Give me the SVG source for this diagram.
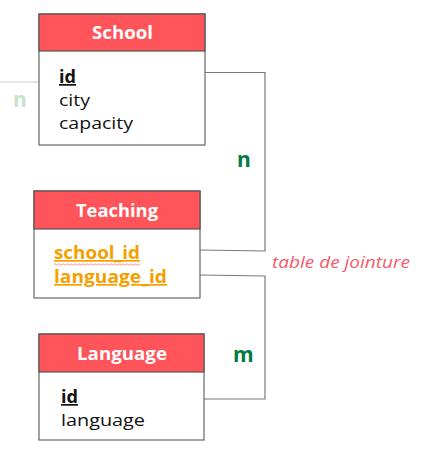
<svg xmlns="http://www.w3.org/2000/svg" width="441" height="458" viewBox="0 0 441 458">
<style>
.box{fill:#fff;stroke:#666;stroke-width:1.2}
.hdr{fill:#ff5459;stroke:#555;stroke-width:1.2}
.title{font-family:"Open Sans",Lato,sans-serif;font-weight:bold;font-size:17px;fill:#fff}
.f{font-family:"Open Sans",Lato,sans-serif;font-size:17px;fill:#111}
.pk{font-weight:bold;text-decoration:underline}
.fk{fill:#f5a000;font-weight:bold;text-decoration:underline}
.con{fill:none;stroke:#777;stroke-width:1.2}
.card{font-family:"Open Sans",Lato,sans-serif;font-weight:bold;font-size:21px;fill:#007a3d}
</style>
<g id="connectors">
<line x1="0" y1="82" x2="39" y2="82" stroke="#ccc" stroke-width="1"/>
<polyline class="con" points="205,72.5 265,72.5 265,251 200,250"/>
<polyline class="con" points="200,275 265,276 265,399 204,399"/>
</g>
<text x="13" y="107" class="card" style="fill:#c8e2cc">n</text>
<text x="237" y="167" class="card">n</text>
<text x="233" y="362" class="card">m</text>
<text x="272" y="268" font-family="'Open Sans',Lato,sans-serif" font-style="italic" font-size="16" fill="#f55a6a" textLength="138" lengthAdjust="spacingAndGlyphs">table de jointure</text>
<g id="school">
<rect class="box" x="39" y="14" width="166" height="131"/>
<rect class="hdr" x="39" y="14" width="166" height="37"/>
<text class="title" x="92" y="39" textLength="61" lengthAdjust="spacingAndGlyphs">School</text>
<text class="f pk" x="59" y="83" textLength="17" lengthAdjust="spacingAndGlyphs">id</text>
<text class="f" x="59" y="106" textLength="31" lengthAdjust="spacingAndGlyphs">city</text>
<text class="f" x="59" y="129" textLength="74" lengthAdjust="spacingAndGlyphs">capacity</text>
</g>
<g id="teaching">
<rect class="box" x="34" y="191" width="166" height="107"/>
<rect class="hdr" x="34" y="191" width="166" height="38"/>
<text class="title" x="76" y="217" textLength="82" lengthAdjust="spacingAndGlyphs">Teaching</text>
<text class="f fk" x="54" y="259" textLength="86" lengthAdjust="spacingAndGlyphs">school_id</text>
<path d="M54,264.5 q1,-1.5 2,0 t2,0 t2,0 t2,0 t2,0 t2,0 t2,0 t2,0 t2,0 t2,0 t2,0 t2,0 t2,0 t2,0 t2,0 t2,0 t2,0 t2,0 t2,0 t2,0 t2,0 t2,0 t2,0 t2,0 t2,0 t2,0 t2,0 t2,0 t2,0 t2,0 t2,0 t2,0 t2,0 t2,0 t2,0 t2,0 t2,0 t2,0 t2,0 t2,0 t2,0 t2,0 t2,0" fill="none" stroke="#f77" stroke-width="0.8"/>
<text class="f fk" x="54" y="283" textLength="113" lengthAdjust="spacingAndGlyphs">language_id</text>
</g>
<g id="language">
<rect class="box" x="39" y="334" width="165" height="106"/>
<rect class="hdr" x="39" y="334" width="165" height="38"/>
<text class="title" x="77" y="360" textLength="90" lengthAdjust="spacingAndGlyphs">Language</text>
<text class="f pk" x="61" y="403" textLength="17" lengthAdjust="spacingAndGlyphs">id</text>
<text class="f" x="61" y="426" textLength="84" lengthAdjust="spacingAndGlyphs">language</text>
</g>
</svg>
